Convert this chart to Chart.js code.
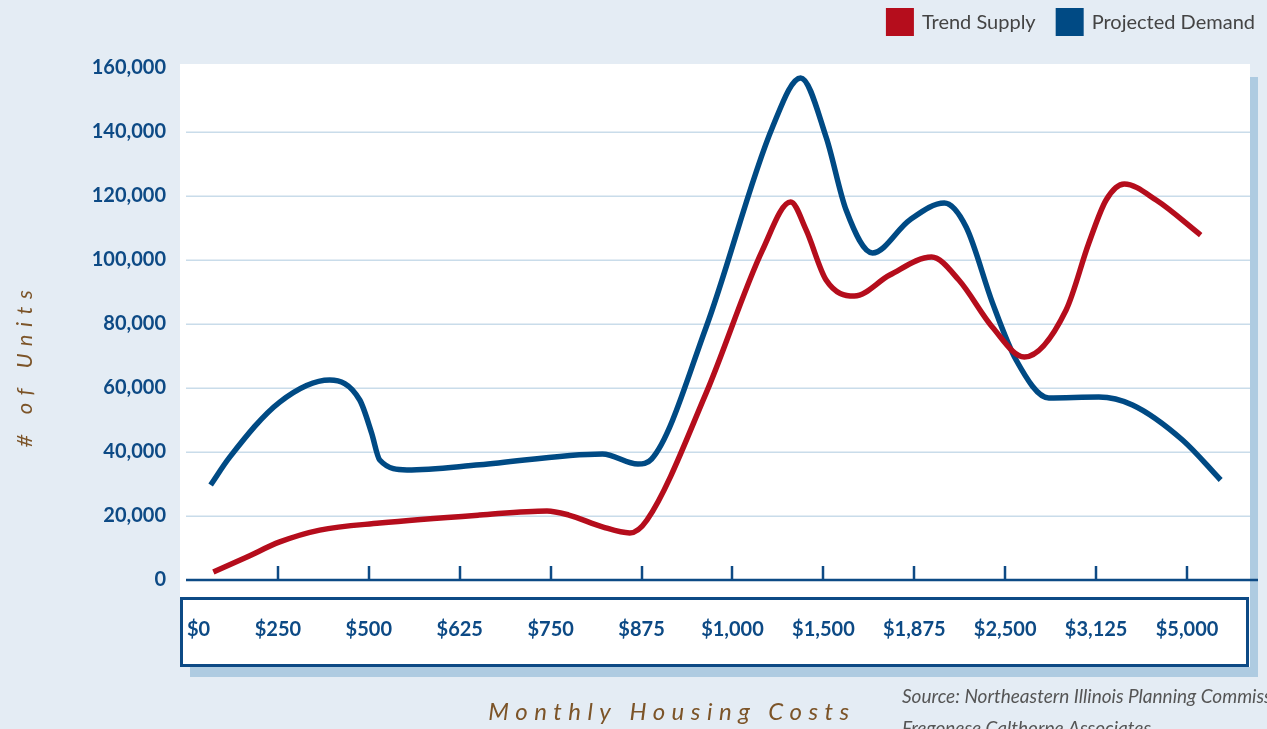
<!DOCTYPE html>
<html>
<head>
<meta charset="utf-8">
<script src="https://cdn.jsdelivr.net/npm/chart.js@4.4.0/dist/chart.umd.min.js"></script>
<style>
html,body{margin:0;padding:0;background:#e4ecf4;}
#wrap{width:1267px;height:729px;position:relative;overflow:hidden;}
canvas{display:block;}
</style>
</head>
<body>
<div id="wrap"><canvas id="c" width="1267" height="729"></canvas></div>
<script>
// ---- data ----
const categories = ['$0','$250','$500','$625','$750','$875','$1,000','$1,500','$1,875','$2,500','$3,125','$5,000'];
const yTickValues = [0,20000,40000,60000,80000,100000,120000,140000,160000];
const seriesNames = ['Trend Supply','Projected Demand'];

// positions along the cost axis, in category-index units
const supplyX = [0.29,0.66,1.02,1.46,2.12,3.22,3.96,4.20,4.57,4.87,5.06,5.71,6.33,6.64,6.81,7.03,7.34,7.73,8.19,8.49,8.86,9.21,9.67,9.92,10.11,10.31,10.66,11.15];
const supplyY = [2500,7200,11900,15600,17800,20300,21600,20300,16600,14700,18750,58400,103100,118100,109400,93750,88750,95300,100900,93750,79000,69700,84400,105300,118750,123750,118750,107800];

const demandX = [0.26,0.47,1.02,1.57,1.90,2.03,2.12,2.42,3.22,4.57,4.96,5.11,5.71,6.44,6.75,7.03,7.25,7.54,7.95,8.33,8.57,8.86,9.12,9.48,10.03,10.40,10.95,11.37];
const demandY = [29700,38400,55600,62500,56250,46000,37500,34400,36000,39400,36250,37800,79000,141500,156900,138400,115600,102200,112500,117800,110300,86600,68750,56900,57200,54700,43750,31250];

// ---- styles ----
const RED = '#b50d1c';
const BLUE = '#004a84';
const TXT_BLUE = '#0d4a85';
const BROWN = '#7c5428';
const GRID = '#c9dcea';
const SHADOW = '#aecbe1';

const supply = supplyX.map((x,i)=>({x:x,y:supplyY[i]}));
const demand = demandX.map((x,i)=>({x:x,y:demandY[i]}));

const X_MIN = -7/91;
const X_MAX = X_MIN + 1050/91;

const decor = {
  id:'decor',
  beforeDraw(chart){
    const c = chart.ctx;
    c.save();
    c.fillStyle = '#e4ecf4';
    c.fillRect(0,0,chart.width,chart.height);
    c.fillStyle = SHADOW;
    c.fillRect(1250,77,8,600);
    c.fillRect(190,667,1068,10);
    c.fillStyle = '#ffffff';
    c.fillRect(180,64,1070,603);
    c.strokeStyle = TXT_BLUE;
    c.lineWidth = 3;
    c.strokeRect(181.5,598.5,1066,67);
    c.restore();
  },
  beforeDatasetsDraw(chart){
    const c = chart.ctx, ys = chart.scales.y;
    c.save();
    c.strokeStyle = GRID;
    c.lineWidth = 1.5;
    yTickValues.forEach(v=>{
      if (v===0 || v===160000) return;
      const py = Math.round(ys.getPixelForValue(v))+0.25;
      c.beginPath(); c.moveTo(186,py); c.lineTo(1250,py); c.stroke();
    });
    c.restore();
  },
  afterDatasetsDraw(chart){
    const c = chart.ctx, xs = chart.scales.x, ys = chart.scales.y;
    const y0 = ys.getPixelForValue(0);
    c.save();
    c.strokeStyle = TXT_BLUE;
    c.lineWidth = 2.5;
    c.beginPath(); c.moveTo(186,y0); c.lineTo(1258,y0); c.stroke();
    for (let i=1;i<categories.length;i++){
      const px = Math.round(xs.getPixelForValue(i));
      c.beginPath(); c.moveTo(px,y0); c.lineTo(px,y0-14); c.stroke();
    }
    c.restore();
  },
  afterDraw(chart){
    const c = chart.ctx;
    c.save();
    // legend
    c.font = '20px Lato';
    c.textBaseline = 'middle';
    c.textAlign = 'left';
    const ds = chart.data.datasets;
    let right = 1255;
    const pos = [];
    for (let i=ds.length-1;i>=0;i--){
      const w = c.measureText(ds[i].label).width;
      const tx = right - w;
      const bx = tx - 8 - 28;
      pos[i] = {tx, bx};
      right = bx - 20;
    }
    ds.forEach((d,i)=>{
      c.fillStyle = d.borderColor;
      c.fillRect(pos[i].bx, 8, 28, 28);
      c.fillStyle = '#444444';
      c.fillText(d.label, pos[i].tx, 23);
    });
    // axis titles
    c.fillStyle = BROWN;
    c.font = 'italic 24px Lato';
    c.textAlign = 'center';
    c.textBaseline = 'alphabetic';
    c.letterSpacing = '6.5px';
    c.fillText('Monthly Housing Costs', 672, 720);
    c.save();
    c.translate(32,368);
    c.rotate(-Math.PI/2);
    c.font = 'italic 22px Lato';
    c.letterSpacing = '7.5px';
    c.fillText('# of Units', 3, 0);
    c.restore();
    c.letterSpacing = '0px';
    // source
    c.fillStyle = '#555555';
    c.font = 'italic 19px Lato';
    c.textAlign = 'left';
    c.fillText('Source: Northeastern Illinois Planning Commission', 902, 703);
    c.fillText('Fregonese Calthorpe Associates', 902, 735);
    c.restore();
  }
};

new Chart(document.getElementById('c'), {
  type:'line',
  data:{
    datasets:[
      {label:seriesNames[0], data:supply, borderColor:RED, backgroundColor:RED, borderWidth:5.5, pointRadius:0, cubicInterpolationMode:'monotone', fill:false, borderCapStyle:'butt'},
      {label:seriesNames[1], data:demand, borderColor:BLUE, backgroundColor:BLUE, borderWidth:5.5, pointRadius:0, cubicInterpolationMode:'monotone', fill:false, borderCapStyle:'butt'}
    ]
  },
  options:{
    responsive:false,
    animation:false,
    events:[],
    layout:{autoPadding:false, padding:{top:68,right:17,left:0,bottom:0}},
    plugins:{
      legend:{display:false},
      tooltip:{enabled:false}
    },
    scales:{
      x:{
        type:'linear', min:X_MIN, max:X_MAX,
        afterBuildTicks:(s)=>{ s.ticks = categories.map((c,i)=>({value:i})).concat([{value:X_MAX}]); },
        afterFit:(s)=>{ s.height = 149; },
        grid:{display:false, drawTicks:false}, border:{display:false},
        ticks:{autoSkip:false, maxRotation:0, align:'inner', padding:38, color:TXT_BLUE,
          font:{family:'Lato', size:20, weight:'bold'},
          callback:(v)=> (Number.isInteger(v) && categories[v]!==undefined) ? categories[v] : ''}
      },
      y:{
        min:0, max:160000,
        afterBuildTicks:(s)=>{ s.ticks = yTickValues.map(v=>({value:v})); },
        afterFit:(s)=>{ s.width = 180; },
        grid:{display:false, drawTicks:false}, border:{display:false},
        ticks:{padding:14, color:TXT_BLUE, font:{family:'Lato', size:20, weight:'bold'},
          callback:(v)=> Number(v).toLocaleString('en-US')}
      }
    }
  },
  plugins:[decor]
});
</script>
</body>
</html>
